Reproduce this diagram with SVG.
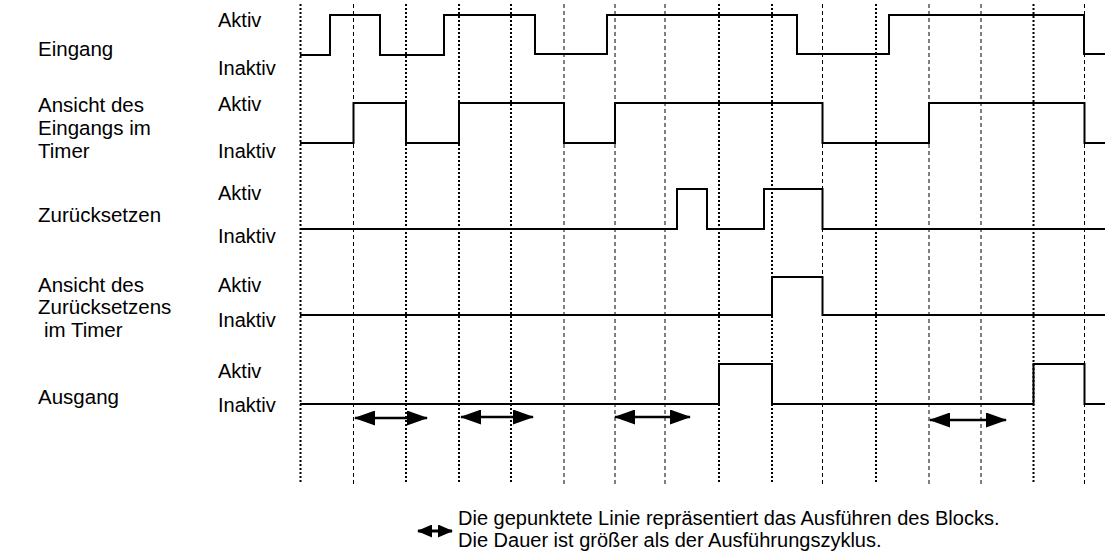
<svg xmlns="http://www.w3.org/2000/svg" width="1107" height="553" viewBox="0 0 1107 553">
<style>
text{font-family:"Liberation Sans",Arial,sans-serif;font-size:20px;fill:#000}
.lbl{font-size:20.5px}
.grid line{stroke:#000;fill:none}
.hv{stroke-width:2;stroke-dasharray:2 2}
.lt{stroke-width:1;stroke-dasharray:4 3}
.sig{fill:none;stroke:#000;stroke-width:2;stroke-linejoin:miter}
.arr{stroke:#000;stroke-width:2.5;fill:none;marker-start:url(#ah);marker-end:url(#ah)}
.arrs{stroke:#000;stroke-width:2.8;fill:none;marker-start:url(#ahs);marker-end:url(#ahs)}
</style>
<defs>
<marker id="ah" markerUnits="userSpaceOnUse" markerWidth="21" markerHeight="15" refX="20" refY="7.5" orient="auto-start-reverse" viewBox="0 0 21 15"><path d="M0,0 L21,7.5 L0,15 Z" fill="#000"/></marker>
<marker id="ahs" markerUnits="userSpaceOnUse" markerWidth="15" markerHeight="13" refX="14" refY="6.5" orient="auto-start-reverse" viewBox="0 0 15 13"><path d="M0,0 L15,6.5 L0,13 Z" fill="#000"/></marker>
</defs>
<rect width="1107" height="553" fill="#fff"/>

<g id="grid" class="grid">
<line class="hv" x1="300.5" y1="4" x2="300.5" y2="484"/>
<line class="lt" x1="353.5" y1="4" x2="353.5" y2="484"/>
<line class="hv" x1="406" y1="4" x2="406" y2="484"/>
<line class="hv" x1="459" y1="4" x2="459" y2="484"/>
<line class="hv" x1="511" y1="4" x2="511" y2="484"/>
<line class="lt" x1="564" y1="4" x2="564" y2="484"/>
<line class="lt" x1="615" y1="4" x2="615" y2="484"/>
<line class="lt" x1="665" y1="4" x2="665" y2="484"/>
<line class="hv" x1="719" y1="4" x2="719" y2="484"/>
<line class="hv" x1="772" y1="4" x2="772" y2="484"/>
<line class="lt" x1="822.5" y1="4" x2="822.5" y2="484"/>
<line class="hv" x1="876" y1="4" x2="876" y2="484"/>
<line class="lt" x1="929" y1="4" x2="929" y2="484"/>
<line class="lt" x1="981" y1="4" x2="981" y2="484"/>
<line class="hv" x1="1033.5" y1="4" x2="1033.5" y2="484"/>
<line class="lt" x1="1084.5" y1="4" x2="1084.5" y2="484"/>
</g>

<g id="eingang">
<text class="lbl" x="38" y="56">Eingang</text>
<text x="218" y="27">Aktiv</text>
<text x="218" y="75">Inaktiv</text>
<path class="sig" d="M300,55 H330 V15 H380 V55 H444 V15 H535 V54 H607 V15 H797 V54 H889 V15 H1084 V54 H1105"/>
</g>

<g id="ansicht-eingang">
<text class="lbl" x="38" y="112">Ansicht des</text>
<text class="lbl" x="38" y="135">Eingangs im</text>
<text class="lbl" x="38" y="158">Timer</text>
<text x="218" y="111">Aktiv</text>
<text x="218" y="158">Inaktiv</text>
<path class="sig" d="M300,143 H353.5 V103 H406 V143 H459 V103 H564 V143 H615 V103 H822.5 V143 H929 V103 H1084.5 V143 H1105"/>
</g>

<g id="zuruecksetzen">
<text class="lbl" x="38" y="222">Zurücksetzen</text>
<text x="218" y="200">Aktiv</text>
<text x="218" y="243">Inaktiv</text>
<path class="sig" d="M300,229 H677 V189 H707 V229 H764 V189 H822.5 V229 H1105"/>
</g>

<g id="ansicht-zuruecksetzen">
<text class="lbl" x="38" y="292">Ansicht des</text>
<text class="lbl" x="38" y="314">Zurücksetzens</text>
<text class="lbl" x="44" y="337">im Timer</text>
<text x="218" y="292">Aktiv</text>
<text x="218" y="327">Inaktiv</text>
<path class="sig" d="M300,315 H772 V277 H822.5 V315 H1105"/>
</g>

<g id="ausgang">
<text class="lbl" x="38" y="404">Ausgang</text>
<text x="218" y="378">Aktiv</text>
<text x="218" y="412">Inaktiv</text>
<path class="sig" d="M300,404 H719 V364 H772 V404 H1033.5 V364 H1084.5 V404 H1105"/>
</g>

<g id="connectors">
<line class="arr" x1="355" y1="418" x2="427" y2="418"/>
<line class="arr" x1="461" y1="417" x2="533" y2="417"/>
<line class="arr" x1="615" y1="417" x2="690" y2="417"/>
<line class="arr" x1="930" y1="420" x2="1006" y2="420"/>
</g>

<g id="legend">
<line class="arrs" x1="418" y1="531" x2="452" y2="531"/>
<text x="458" y="525">Die gepunktete Linie repräsentiert das Ausführen des Blocks.</text>
<text x="458" y="547">Die Dauer ist größer als der Ausführungszyklus.</text>
</g>
</svg>
